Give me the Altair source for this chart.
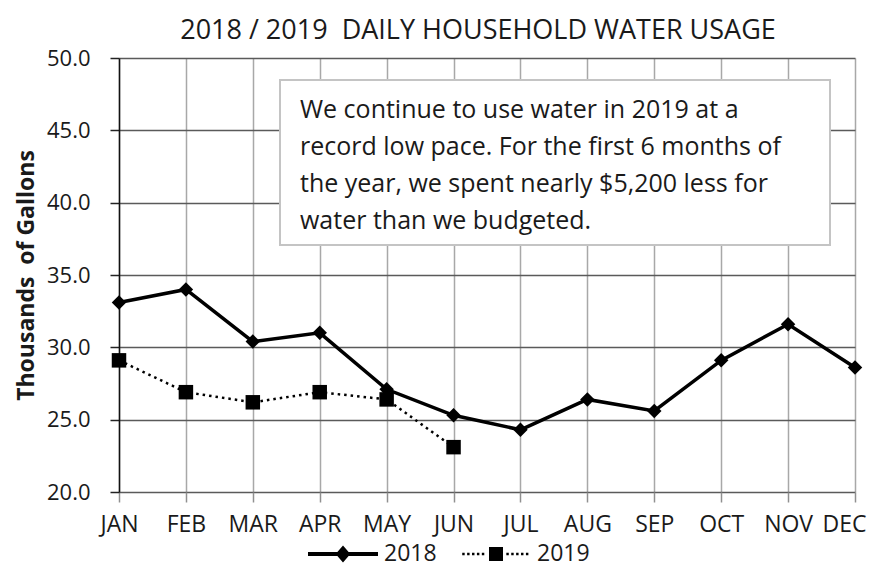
import altair as alt
import pandas as pd

months = ["JAN", "FEB", "MAR", "APR", "MAY", "JUN", "JUL", "AUG", "SEP", "OCT", "NOV", "DEC"]
usage_2018 = [33.1, 34.0, 30.4, 31.0, 27.1, 25.3, 24.3, 26.4, 25.6, 29.1, 31.6, 28.6]
usage_2019 = [29.1, 26.9, 26.2, 26.9, 26.4, 23.1]
y_ticks = [20, 25, 30, 35, 40, 45, 50]
series_names = ["2018", "2019"]
title_text = "2018 / 2019\u00a0 DAILY HOUSEHOLD WATER USAGE"
y_title = "Thousands\u00a0 of Gallons"
note_lines = [
    "We continue to use water in 2019 at a",
    "record low pace. For the first 6 months of",
    "the year, we spent nearly $5,200 less for",
    "water than we budgeted.",
]

FONT = "Open Sans"
TXT = "#1a1a1a"

rows = [{"month": m, "series": "2018", "value": v} for m, v in zip(months, usage_2018)]
rows += [{"month": m, "series": "2019", "value": v} for m, v in zip(months, usage_2019)]
df = pd.DataFrame(rows)

# legend glyphs: line + marker, as custom symbol paths in [-1,1]
p2018 = "M-1,-0.055H1V0.055H-1Z M0,-0.24L0.21,0L0,0.24L-0.21,0Z"
parts = []
x = -0.93
while x <= 0.94:
    if abs(x) > 0.28:
        parts.append(f"M{x-0.035:.3f},-0.035H{x+0.035:.3f}V0.035H{x-0.035:.3f}Z")
    x += 0.14
parts.append("M-0.2,-0.2H0.2V0.2H-0.2Z")
p2019 = " ".join(parts)

x_enc = alt.X("month:N", sort=months, scale=alt.Scale(domain=months, padding=0),
              axis=alt.Axis(title=None, labelAngle=0, labelFontSize=23, labelFont=FONT,
                            labelColor=TXT, tickSize=10, tickColor="#909090",
                            tickWidth=1.5, labelPadding=11, domain=False,
                            grid=True, gridColor="#a8a8a8", gridWidth=1.5,
                            labelOffset=alt.condition("datum.value === 'DEC'", alt.value(-11), alt.value(0))))
y_enc = alt.Y("value:Q", scale=alt.Scale(domain=[20, 50], nice=False, zero=False),
              axis=alt.Axis(title=y_title, values=y_ticks, format=".1f",
                            labelFontSize=22, labelFont=FONT, labelColor=TXT,
                            titleFontSize=23, titleFont=FONT, titleFontWeight="bold",
                            titleColor=TXT, titlePadding=8,
                            tickSize=9, tickColor="#222222", tickWidth=1.5, labelPadding=20,
                            domain=True, domainColor="#111111", domainWidth=1.5,
                            grid=True, gridColor="#5a5a5a", gridWidth=1.5))

base = alt.Chart(df).encode(x=x_enc, y=y_enc)

line18 = base.transform_filter(alt.datum.series == "2018").mark_line(color="black", strokeWidth=3.5)
line19 = base.transform_filter(alt.datum.series == "2019").mark_line(color="black", strokeWidth=2.5, strokeDash=[2.5, 4])
pt18 = base.transform_filter(alt.datum.series == "2018").mark_point(shape="diamond", filled=True, color="black", size=210, opacity=1)
pt19 = base.transform_filter(alt.datum.series == "2019").mark_point(shape="square", filled=True, color="black", size=210, opacity=1)

legend_layer = alt.Chart(df).transform_filter("false").mark_point(filled=True, color="black", opacity=1).encode(
    x=alt.X("month:N", sort=months),
    y="value:Q",
    shape=alt.Shape("series:N", scale=alt.Scale(domain=series_names, range=[p2018, p2019]),
                    legend=alt.Legend(title=None, orient="none", direction="horizontal",
                                      legendX=189, legendY=461, symbolSize=4900,
                                      symbolFillColor="black", symbolStrokeWidth=0,
                                      labelFontSize=23, labelFont=FONT, labelColor=TXT,
                                      labelOffset=6, columnPadding=24, padding=0)),
)

box_df = pd.DataFrame({"t": ["\n".join(note_lines)]})
box = alt.Chart(box_df).mark_rect(fill="white", stroke="#c4c4c4", strokeWidth=2).encode(
    x=alt.value(161), x2=alt.value(711), y=alt.value(22), y2=alt.value(187))
note = alt.Chart(box_df).mark_text(align="left", baseline="middle", lineBreak="\n", lineHeight=37,
                                    fontSize=25, font=FONT, color=TXT).encode(
    x=alt.value(181), y=alt.value(52), text="t:N")

chart = alt.layer(line18, line19, pt18, pt19, legend_layer, box, note).properties(
    width=736, height=434,
    title=alt.TitleParams(title_text, fontSize=27, font=FONT, fontWeight="normal", color=TXT,
                          anchor="middle", offset=2, dx=-9),
    autosize=alt.AutoSizeParams(type="none"),
    padding={"left": 111, "top": 50, "right": 15, "bottom": 77},
).configure_view(stroke=None)

chart.save("out.html", embed_options={"renderer": "svg", "actions": False})
